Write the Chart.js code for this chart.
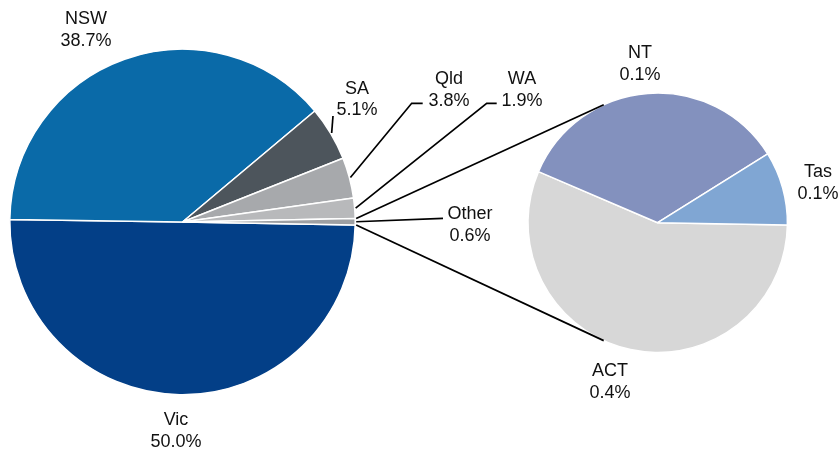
<!DOCTYPE html>
<html><head><meta charset="utf-8">
<script src="https://cdn.jsdelivr.net/npm/chart.js@4/dist/chart.umd.min.js"></script>
<style>
html,body{margin:0;padding:0;background:#fff;}
#wrap{position:relative;width:840px;height:450px;}
#wrap canvas{position:absolute;left:0;top:0;}
</style></head><body>
<div id="wrap"><canvas id="main" width="840" height="450"></canvas><canvas id="sub" width="840" height="450"></canvas></div>
<script>
// ---- data ----
const mainCategories = ['Vic', 'NSW', 'SA', 'Qld', 'WA', 'Other'];
const mainValues = [50.0, 38.7, 5.1, 3.8, 1.9, 0.6];
const subCategories = ['ACT', 'NT', 'Tas'];
const subValues = [0.337, 0.208, 0.055];
const subPctLabels = ['0.4%', '0.1%', '0.1%'];

// ---- styles ----
const mainColors = ['#033F87', '#0A6AA8', '#4D555C', '#A7A9AC', '#B8B9BB', '#9EA0A3'];
const subColors = ['#D7D7D7', '#8391BE', '#80A6D3'];
const FONT = '18px "Liberation Sans", Arial, sans-serif';
const LINE_H = 21.5;

const mainLabelPos = {NSW:[86,24], Vic:[176,425], SA:[357,93.5], Qld:[449,84], WA:[522,84], Other:[470,219]};
const mainLeaders = {SA:[[333,116]], Qld:[[422.7,103.3],[411.7,103.3]], WA:[[496.7,103.3],[486.7,103.3]], Other:[[443,218.3]]};
const subLabelPos = {ACT:[610,376], NT:[640,58], Tas:[818,177]};

function pt(a, r, ang){ return [a.x + r*Math.cos(ang), a.y + r*Math.sin(ang)]; }
function drawLabel(ctx, x, y, name, pct){
  ctx.save();
  ctx.font = FONT; ctx.fillStyle = '#111'; ctx.textAlign = 'center'; ctx.textBaseline = 'alphabetic';
  ctx.fillText(name, x, y); ctx.fillText(pct, x, y + LINE_H);
  ctx.restore();
}

const mainPlugin = {
  id: 'mainLabels',
  afterDraw(chart){
    const ctx = chart.ctx;
    const arcs = chart.getDatasetMeta(0).data;
    ctx.save();
    ctx.strokeStyle = '#000'; ctx.lineWidth = 1.7;
    mainCategories.forEach((c, i) => {
      const lead = mainLeaders[c];
      if (!lead) return;
      const a = arcs[i];
      const mid = (a.startAngle + a.endAngle) / 2;
      const e = pt(a, a.outerRadius + 1, mid);
      ctx.beginPath();
      ctx.moveTo(lead[0][0], lead[0][1]);
      for (let k = 1; k < lead.length; k++) ctx.lineTo(lead[k][0], lead[k][1]);
      ctx.lineTo(e[0], e[1]);
      ctx.stroke();
    });
    ctx.restore();
    mainCategories.forEach((c, i) => {
      const p = mainLabelPos[c];
      drawLabel(ctx, p[0], p[1], c, mainValues[i].toFixed(1) + '%');
    });
  }
};

const subPlugin = {
  id: 'subLabels',
  afterDraw(chart){
    const ctx = chart.ctx;
    const other = mainChart.getDatasetMeta(0).data[mainCategories.indexOf('Other')];
    const s = chart.getDatasetMeta(0).data[0];
    const angTop = -114.6 * Math.PI / 180, angBot = 114.6 * Math.PI / 180;
    const m1 = pt(other, other.outerRadius + 1, other.startAngle);
    const m2 = pt(other, other.outerRadius + 1, other.endAngle);
    const s1 = pt(s, s.outerRadius, angTop);
    const s2 = pt(s, s.outerRadius, angBot);
    ctx.save();
    ctx.strokeStyle = '#000'; ctx.lineWidth = 1.7;
    ctx.beginPath(); ctx.moveTo(m1[0], m1[1]); ctx.lineTo(s1[0], s1[1]); ctx.stroke();
    ctx.beginPath(); ctx.moveTo(m2[0], m2[1]); ctx.lineTo(s2[0], s2[1]); ctx.stroke();
    ctx.restore();
    subCategories.forEach((c, i) => {
      const p = subLabelPos[c];
      drawLabel(ctx, p[0], p[1], c, subPctLabels[i]);
    });
  }
};

const common = {
  responsive: false, animation: false, devicePixelRatio: 1,
  plugins: { legend: {display:false}, tooltip: {enabled:false} },
  rotation: 91
};

const mainChart = new Chart(document.getElementById('main'), {
  type: 'pie',
  data: { labels: mainCategories, datasets: [{ data: mainValues, backgroundColor: mainColors, borderColor: '#fff', borderWidth: 1.5 }] },
  options: Object.assign({}, common, {
    radius: 172.7,
    layout: { padding: { left: 10.5, right: 485.5, top: 50, bottom: 56 } }
  }),
  plugins: [mainPlugin]
});

const subChart = new Chart(document.getElementById('sub'), {
  type: 'pie',
  data: { labels: subCategories, datasets: [{ data: subValues, backgroundColor: subColors, borderColor: '#fff', borderWidth: 1.5 }] },
  options: Object.assign({}, common, {
    radius: 129.7,
    layout: { padding: { left: 528.7, right: 53.3, top: 93.7, bottom: 98.3 } }
  }),
  plugins: [subPlugin]
});
</script>
</body></html>
